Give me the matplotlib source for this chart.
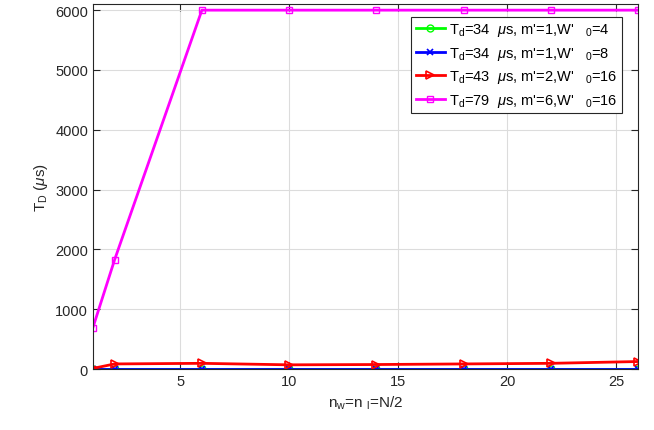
#!/usr/bin/env python3
# T_D vs n_w = n_l = N/2 for several (T_d, m', W'_0) settings

import numpy as np
import matplotlib
matplotlib.use('Agg')
import matplotlib.pyplot as plt

plt.rcParams.update({
    'font.family': ['Liberation Sans', 'DejaVu Sans'],
    'font.size': 10, 'mathtext.fontset': 'custom',
    'mathtext.rm': 'Liberation Sans', 'mathtext.it': 'Liberation Sans:italic',
})

n_vals = [1, 2, 6, 10, 14, 18, 22, 26]
td34_w4 = [0, 0, 0, 0, 0, 0, 0, 0]
td34_w8 = [0, 0, 0, 0, 0, 0, 0, 0]
td43_w16 = [10, 85, 95, 70, 75, 85, 95, 125]
td79_w16 = [690, 1830, 6000, 6000, 6000, 6000, 6000, 6000]

labels = [
    r"T$_\mathrm{d}$=34  $\mu$s, m'=1,W'   $_\mathrm{0}$=4",
    r"T$_\mathrm{d}$=34  $\mu$s, m'=1,W'   $_\mathrm{0}$=8",
    r"T$_\mathrm{d}$=43  $\mu$s, m'=2,W'   $_\mathrm{0}$=16",
    r"T$_\mathrm{d}$=79  $\mu$s, m'=6,W'   $_\mathrm{0}$=16",
]

fig = plt.figure(figsize=(6.54, 4.31), dpi=100)
ax = fig.add_axes([0.142, 0.1415, 0.8335, 0.8465])

ax.plot(n_vals, td34_w4, color='#00ff00', lw=2, marker='o', ms=5,
        mfc='none', mew=1, label=labels[0])
ax.plot(n_vals, td34_w8, color='#0000ff', lw=2, marker='x', ms=5,
        mew=1.2, label=labels[1])
ax.plot(n_vals, td43_w16, color='#ff0000', lw=2, marker='>', ms=6,
        mfc='none', mew=1.2, label=labels[2])
ax.plot(n_vals, td79_w16, color='#ff00ff', lw=2, marker='s', ms=5,
        mfc='none', mew=1, label=labels[3])

ax.set_xlim(1, 26)
ax.set_ylim(0, 6100)
ax.set_xticks([5, 10, 15, 20, 25])
ax.set_yticks(np.arange(0, 6001, 1000))
ax.grid(True, color='#dcdcdc', lw=0.8)
ax.tick_params(direction='in', top=True, right=True, length=5,
               colors='#262626', labelsize=10.5)
for s in ax.spines.values():
    s.set_color('#262626')
    s.set_linewidth(0.8)

ax.set_xlabel(r"n$_\mathrm{w}$=n $_\mathrm{l}$=N/2", fontsize=11, color='#262626')
ax.set_ylabel(r"T$_\mathrm{D}$ ($\mu$s)", fontsize=11, color='#262626')

leg = ax.legend(loc='upper right', bbox_to_anchor=(622 / 654, 1 - 18 / 431),
                bbox_transform=fig.transFigure, fontsize=10.5, fancybox=False,
                edgecolor='#262626', framealpha=1, handlelength=2.0,
                borderpad=0.3, labelspacing=0.45, handletextpad=0.3,
                borderaxespad=0)
leg.get_frame().set_linewidth(0.8)

plt.savefig('out.png', dpi=100)
plt.close()
